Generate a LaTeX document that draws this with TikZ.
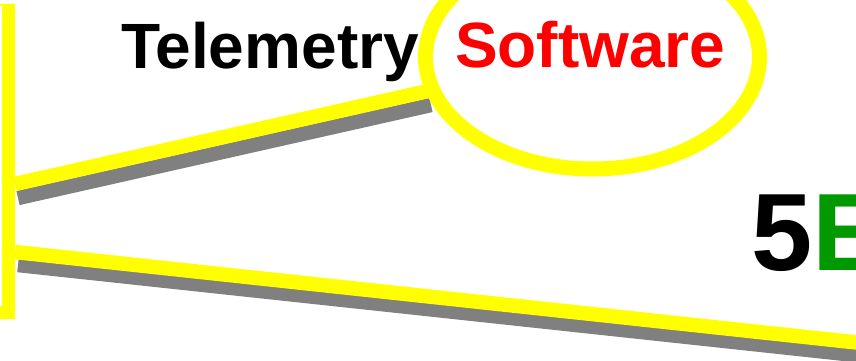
\documentclass[tikz,border=0pt]{standalone}
\usepackage{fontspec}
\setmainfont{Liberation Sans}
\usetikzlibrary{shapes.geometric}
\definecolor{ylw}{RGB}{255,255,0}
\definecolor{shd}{RGB}{128,128,128}
\definecolor{grn}{RGB}{0,153,0}
\definecolor{rd}{RGB}{255,0,0}
\begin{document}
\begin{tikzpicture}[x=1pt,y=-1pt,
  bar/.style={ylw,line width=14.5pt,line cap=butt},
  shadow/.style={shd,line width=14.5pt,line cap=butt},
  lbl/.style={inner sep=0pt,anchor=base west,font=\bfseries\fontsize{64}{64}\selectfont}]
\useasboundingbox (0,0) rectangle (856,361);
\clip (0,0) rectangle (856,361);
% coordinates
\coordinate (u1) at (15,184);
\coordinate (u2) at (428,91);
\coordinate (l1) at (15,252);
\coordinate (l2) at (880,345);
% shadows
\draw[shadow] ([shift={(3,14)}]u1) -- ([shift={(3,14)}]u2);
\draw[shadow] ([shift={(3,13)}]l1) -- ([shift={(3,13)}]l2);
% yellow lines
\draw[bar] (u1) -- (u2);
\draw[bar] (l1) -- (l2);
% left bar
\fill[ylw] (0,4) -- (15,4) -- (15,319) -- (0,319) -- (0,306) -- (2,306) -- (2,6) -- (0,6) -- cycle;
% ellipse
\node[ellipse,draw=ylw,fill=white,line width=15pt,minimum width=334pt,minimum height=224pt,inner sep=0pt] (ell) at (592.5,57) {};
% texts
\node[lbl,text=black] (tel) at (121,68) {Telemetry};
\node[lbl,text=rd] (sw) at (455,67) {Software};
\node[lbl,font=\bfseries\fontsize{110}{110}\selectfont,text=black] (fe) at (751,270) {5\textcolor{grn}{E}};
\end{tikzpicture}
\end{document}
